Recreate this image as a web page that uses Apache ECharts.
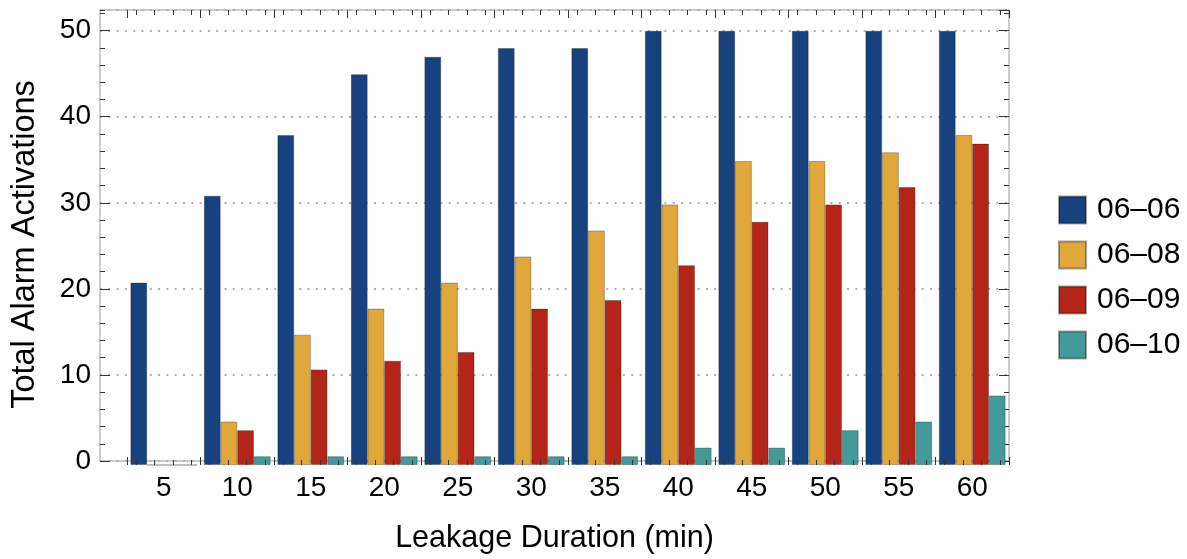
<!DOCTYPE html>
<html>
<head>
<meta charset="utf-8">
<script src="https://cdn.jsdelivr.net/npm/echarts@6/dist/echarts.min.js"></script>
<style>html,body{margin:0;padding:0;background:#fff;}#c{width:1187px;height:559px;}</style>
</head>
<body>
<div id="c"></div>
<script>
const categories = ['5','10','15','20','25','30','35','40','45','50','55','60'];
const seriesNames = ['06\u201306','06\u201308','06\u201309','06\u201310'];
const v0606 = [21,31,38,45,47,48,48,50,50,50,50,50];
const v0608 = [0,5,15,18,21,24,27,30,35,35,36,38];
const v0609 = [0,4,11,12,13,18,19,23,28,30,32,37];
const v0610 = [0,1,1,1,1,1,1,2,2,4,5,8];
const yTicks = [0,10,20,30,40,50];
const colors = ['#18427e','#e0a83a','#b32519','#44999a'];
const yMin = 0, yMax = 52.4;

const values = [v0606, v0608, v0609, v0610];
const FONT = '"Liberation Sans", Arial, Helvetica, sans-serif';
const subSlots = [];
categories.forEach(() => { for (let k = 0; k < 4; k++) subSlots.push(''); });

const chart = echarts.init(document.getElementById('c'), null, {renderer: 'canvas'});
const tickColor = '#333';
const option = {
  animation: false,
  backgroundColor: '#fff',
  textStyle: {fontFamily: FONT},
  grid: [
    {left: 100, right: 178, top: 10, bottom: 94, show: true, borderColor: '#999', borderWidth: 1, backgroundColor: 'transparent'},
    {left: 127, right: 178, top: 10, bottom: 94}
  ],
  legend: {
    orient: 'vertical', left: 1053, top: 190,
    itemWidth: 27, itemHeight: 27, itemGap: 15,
    icon: 'rect',
    data: seriesNames,
    textStyle: {fontSize: 30, color: '#000', fontFamily: FONT, padding: [0,0,0,6], lineHeight: 30}
  },
  xAxis: [
    {gridIndex: 0, type: 'value', min: 0, max: 1, show: true,
     axisLine: {show: false}, axisTick: {show: false}, axisLabel: {show: false}, splitLine: {show: false},
     name: 'Leakage Duration (min)', nameLocation: 'middle', nameGap: 62,
     nameTextStyle: {fontSize: 30.5, color: '#000', fontFamily: FONT}},
    {gridIndex: 1, type: 'category', data: categories, position: 'bottom', boundaryGap: true, z: 5,
     axisLine: {show: false},
     axisTick: {show: true, inside: true, length: 8, interval: 0, lineStyle: {color: tickColor, width: 1}},
     axisLabel: {show: true, fontSize: 28, color: '#000', margin: 9, fontFamily: FONT, interval: 0}},
    {gridIndex: 1, type: 'category', data: categories, position: 'top', boundaryGap: true, z: 5,
     axisLine: {show: false},
     axisTick: {show: true, inside: true, length: 8, interval: 0, lineStyle: {color: tickColor, width: 1}},
     axisLabel: {show: false}},
    {gridIndex: 1, type: 'category', data: subSlots, position: 'bottom', boundaryGap: true, z: 5,
     axisLine: {show: false},
     axisTick: {show: true, inside: true, length: 5, interval: 0, alignWithLabel: true, lineStyle: {color: tickColor, width: 1}},
     axisLabel: {show: false}},
    {gridIndex: 1, type: 'category', data: subSlots, position: 'top', boundaryGap: true, z: 5,
     axisLine: {show: false},
     axisTick: {show: true, inside: true, length: 5, interval: 0, alignWithLabel: true, lineStyle: {color: tickColor, width: 1}},
     axisLabel: {show: false}}
  ],
  yAxis: [
    {gridIndex: 0, type: 'value', min: yMin, max: yMax, interval: 10, position: 'left',
     axisLine: {show: false},
     axisTick: {show: true, inside: true, length: 10, lineStyle: {color: tickColor}},
     axisLabel: {show: true, fontSize: 28, color: '#000', margin: 9, fontFamily: FONT, showMaxLabel: false,
       formatter: v => (yTicks.indexOf(v) >= 0 ? String(v) : '')},
     splitLine: {show: true, lineStyle: {color: '#b0b0b0', width: 2, type: [2, 6.3], cap: 'butt'}},
     name: 'Total Alarm Activations', nameLocation: 'middle', nameGap: 58, nameRotate: 90,
     nameTextStyle: {fontSize: 32.5, color: '#000', fontFamily: FONT, padding: [0, 18, 0, 0]}},
    {gridIndex: 0, type: 'value', min: yMin, max: yMax, interval: 2, position: 'left',
     axisLine: {show: false}, axisLabel: {show: false}, splitLine: {show: false},
     axisTick: {show: true, inside: true, length: 5, lineStyle: {color: tickColor}}},
    {gridIndex: 0, type: 'value', min: yMin, max: yMax, interval: 10, position: 'right',
     axisLine: {show: false}, axisLabel: {show: false}, splitLine: {show: false},
     axisTick: {show: true, inside: true, length: 10, lineStyle: {color: tickColor}}},
    {gridIndex: 0, type: 'value', min: yMin, max: yMax, interval: 2, position: 'right',
     axisLine: {show: false}, axisLabel: {show: false}, splitLine: {show: false},
     axisTick: {show: true, inside: true, length: 5, lineStyle: {color: tickColor}}},
    {gridIndex: 1, type: 'value', min: yMin, max: yMax, show: false}
  ],
  series: seriesNames.map((name, i) => ({
    name: name,
    type: 'bar',
    xAxisIndex: 1,
    yAxisIndex: 4,
    data: values[i],
    barGap: '0%',
    barCategoryGap: '9.4%',
    itemStyle: {color: colors[i], borderColor: 'rgba(0,0,0,0.35)', borderWidth: 0.8},
    emphasis: {disabled: true}
  }))
};
chart.setOption(option);
</script>
</body>
</html>
